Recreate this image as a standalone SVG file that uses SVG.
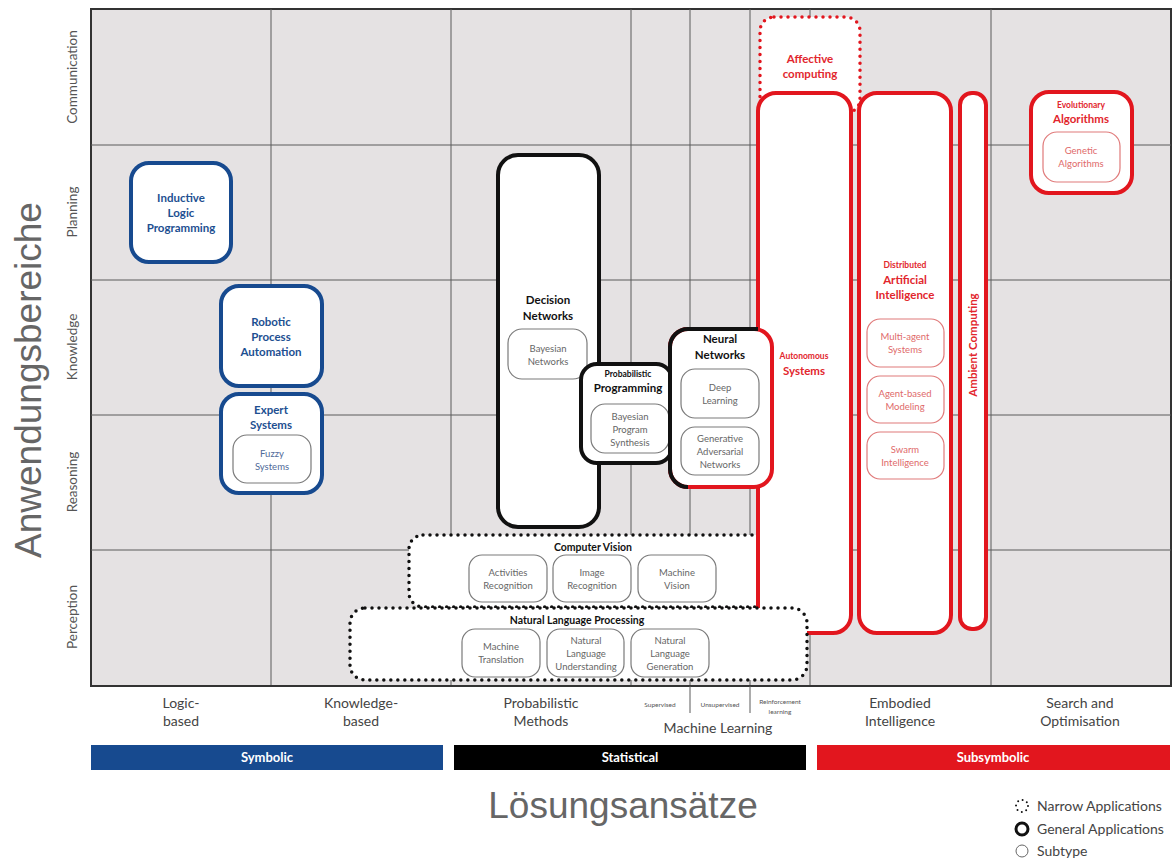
<svg xmlns="http://www.w3.org/2000/svg" width="1175" height="859" viewBox="0 0 1175 859">
<style>
.grid{stroke:#5a5a5a;stroke-width:1;fill:none}
.ax{font-family:"Lato","Noto Sans",sans-serif;font-size:13.5px;fill:#555;text-anchor:middle}
.bx{font-family:"Lato","Noto Sans",sans-serif;font-size:14px;fill:#444;text-anchor:middle}
.sm{font-family:"Lato","Noto Sans",sans-serif;font-size:6.5px;fill:#555;text-anchor:middle}
.big{font-family:"Liberation Sans",Arial,sans-serif;font-size:37px;fill:#666;text-anchor:middle}
.t{font-family:"Lato","Noto Sans",sans-serif;font-weight:bold;font-size:11.5px;text-anchor:middle}
.ts{font-family:"Lato","Noto Sans",sans-serif;font-weight:bold;font-size:8.5px;text-anchor:middle}
.st{font-family:"Lato","Noto Sans",sans-serif;font-size:9.5px;text-anchor:middle}
.blue{stroke:#174a8f;stroke-width:4;fill:#fff}
.black{stroke:#111;stroke-width:4;fill:#fff}
.red{stroke:#e2161e;stroke-width:4;fill:#fff}
.dotk{stroke:#111;stroke-width:3.5;fill:#fff;stroke-dasharray:0 7;stroke-linecap:round}
.dotr{stroke:#e2161e;stroke-width:3.5;fill:#fff;stroke-dasharray:0 7;stroke-linecap:round}
.sub{stroke:#7a7a7a;stroke-width:1.2;fill:#fff}
.subr{stroke:#e07a7a;stroke-width:1.2;fill:#fff}
.cb{fill:#1d4f91}.ck{fill:#111}.cr{fill:#e2262d}.cg{fill:#666}.cgb{fill:#4f6a99}.crs{fill:#e06a6a}
.bar{font-family:"Lato","Noto Sans",sans-serif;font-weight:bold;font-size:13px;fill:#fff;text-anchor:middle}
.leg{font-family:"Lato","Noto Sans",sans-serif;font-size:14px;fill:#444}
</style>
<rect width="1175" height="859" fill="#fff"/>
<g id="grid">
<rect x="91" y="9" width="1080" height="677" fill="#e5e2e3" stroke="#333" stroke-width="2"/>
<path class="grid" d="M91 145H1171M91 280H1171M91 415H1171M91 550H1171M271 9V686M451 9V686M631 9V686M690 9V686M750 9V686M810 9V686M991 9V686"/>
<path d="M91 686H1171" stroke="#333" stroke-width="2"/>
<path class="grid" d="M690 686V713M750 686V713"/>
</g>
<g id="axes">
<text class="big" transform="translate(41 380) rotate(-90)">Anwendungsbereiche</text>
<text class="ax" transform="translate(77 77) rotate(-90)">Communication</text>
<text class="ax" transform="translate(77 212) rotate(-90)">Planning</text>
<text class="ax" transform="translate(77 347) rotate(-90)">Knowledge</text>
<text class="ax" transform="translate(77 482) rotate(-90)">Reasoning</text>
<text class="ax" transform="translate(77 617) rotate(-90)">Perception</text>
<text class="bx" x="181" y="708">Logic-</text><text class="bx" x="181" y="726">based</text>
<text class="bx" x="361" y="708">Knowledge-</text><text class="bx" x="361" y="726">based</text>
<text class="bx" x="541" y="708">Probabilistic</text><text class="bx" x="541" y="726">Methods</text>
<text class="sm" x="660" y="707">Supervised</text>
<text class="sm" x="720" y="707">Unsupervised</text>
<text class="sm" x="780" y="704">Reinforcement</text><text class="sm" x="780" y="714">learning</text>
<text class="bx" x="718" y="733">Machine Learning</text>
<text class="bx" x="900" y="708">Embodied</text><text class="bx" x="900" y="726">Intelligence</text>
<text class="bx" x="1080" y="708">Search and</text><text class="bx" x="1080" y="726">Optimisation</text>
<rect x="91" y="745" width="352" height="25" fill="#174a8f"/>
<text class="bar" x="267" y="762">Symbolic</text>
<rect x="454" y="745" width="352" height="25" fill="#000"/>
<text class="bar" x="630" y="762">Statistical</text>
<rect x="817" y="745" width="353" height="25" fill="#e2161e"/>
<text class="bar" x="993" y="762">Subsymbolic</text>
<text class="big" x="623" y="818">Lösungsansätze</text>
</g>
<g id="legend">
<circle cx="1022" cy="806" r="6" fill="none" stroke="#111" stroke-width="2" stroke-dasharray="0 4.7" stroke-linecap="round"/>
<text class="leg" x="1037" y="811">Narrow Applications</text>
<circle cx="1022" cy="829" r="6" fill="none" stroke="#111" stroke-width="3"/>
<text class="leg" x="1037" y="834">General Applications</text>
<circle cx="1022" cy="851" r="6" fill="none" stroke="#666" stroke-width="1"/>
<text class="leg" x="1037" y="856">Subtype</text>
</g>
<g id="connectors"></g>
<g id="affective">
<rect class="dotr" x="760" y="17" width="100" height="96" rx="14"/>
<text class="t cr" x="810" y="63">Affective</text>
<text class="t cr" x="810" y="78">computing</text>
</g>
<g id="computer-vision">
<rect class="dotk" x="409" y="535" width="360" height="72" rx="14"/>
<text class="t ck" x="593" y="551" style="font-size:10.5px">Computer Vision</text>
<rect class="sub" x="469" y="555" width="78" height="47" rx="13"/>
<text class="st cg" x="508" y="576">Activities</text><text class="st cg" x="508" y="589">Recognition</text>
<rect class="sub" x="553" y="555" width="78" height="47" rx="13"/>
<text class="st cg" x="592" y="576">Image</text><text class="st cg" x="592" y="589">Recognition</text>
<rect class="sub" x="638" y="555" width="78" height="47" rx="13"/>
<text class="st cg" x="677" y="576">Machine</text><text class="st cg" x="677" y="589">Vision</text>
</g>
<g id="autonomous">
<rect class="red" x="758" y="93" width="93" height="540" rx="18"/>
<text class="ts cr" x="804" y="359">Autonomous</text>
<text class="t cr" x="804" y="375">Systems</text>
</g>
<g id="dai">
<rect class="red" x="859" y="93" width="92" height="540" rx="18"/>
<text class="ts cr" x="905" y="268">Distributed</text>
<text class="t cr" x="905" y="284">Artificial</text>
<text class="t cr" x="905" y="299">Intelligence</text>
<rect class="subr" x="867" y="319" width="77" height="48" rx="13"/>
<text class="st crs" x="905" y="340">Multi-agent</text><text class="st crs" x="905" y="353">Systems</text>
<rect class="subr" x="867" y="376" width="77" height="47" rx="13"/>
<text class="st crs" x="905" y="397">Agent-based</text><text class="st crs" x="905" y="410">Modeling</text>
<rect class="subr" x="867" y="432" width="77" height="47" rx="13"/>
<text class="st crs" x="905" y="453">Swarm</text><text class="st crs" x="905" y="466">Intelligence</text>
</g>
<g id="ambient">
<rect class="red" x="960" y="93" width="26" height="536" rx="12"/>
<text class="t cr" transform="translate(977 345) rotate(-90)">Ambient Computing</text>
</g>
<g id="evolutionary">
<rect class="red" x="1031" y="92" width="101" height="101" rx="18"/>
<text class="ts cr" x="1081" y="108">Evolutionary</text>
<text class="t cr" x="1081" y="123">Algorithms</text>
<rect class="subr" x="1043" y="132" width="77" height="50" rx="14"/>
<text class="st crs" x="1081" y="154">Genetic</text><text class="st crs" x="1081" y="167">Algorithms</text>
</g>
<g id="decision-networks">
<rect class="black" x="498" y="155" width="101" height="372" rx="20"/>
<text class="t ck" x="548" y="304">Decision</text>
<text class="t ck" x="548" y="320">Networks</text>
<rect class="sub" x="508" y="329" width="79" height="50" rx="14"/>
<text class="st cg" x="548" y="352">Bayesian</text><text class="st cg" x="548" y="365">Networks</text>
</g>
<g id="probabilistic-programming">
<rect class="black" x="581" y="364" width="91" height="99" rx="16"/>
<text class="ts ck" x="628" y="377">Probabilistic</text>
<text class="t ck" x="628" y="392">Programming</text>
<rect class="sub" x="591" y="404" width="78" height="49" rx="14"/>
<text class="st cg" x="630" y="420">Bayesian</text><text class="st cg" x="630" y="433">Program</text><text class="st cg" x="630" y="446">Synthesis</text>
</g>
<g id="neural-networks">
<rect class="red" x="670" y="329" width="102" height="158" rx="18"/>
<path d="M688 487A18 18 0 0 1 670 469V347A18 18 0 0 1 688 329H758" fill="none" stroke="#111" stroke-width="4"/>
<text class="t ck" x="720" y="343">Neural</text>
<text class="t ck" x="720" y="359">Networks</text>
<rect class="sub" x="681" y="369" width="78" height="49" rx="14"/>
<text class="st cg" x="720" y="391">Deep</text><text class="st cg" x="720" y="404">Learning</text>
<rect class="sub" x="681" y="427" width="78" height="48" rx="14"/>
<text class="st cg" x="720" y="442">Generative</text><text class="st cg" x="720" y="455">Adversarial</text><text class="st cg" x="720" y="468">Networks</text>
</g>
<g id="nlp">
<rect class="dotk" x="350" y="608" width="457" height="72" rx="15"/>
<text class="t ck" x="577" y="624" style="font-size:10.5px">Natural Language Processing</text>
<rect class="sub" x="462" y="629" width="78" height="48" rx="13"/>
<text class="st cg" x="501" y="650">Machine</text><text class="st cg" x="501" y="663">Translation</text>
<rect class="sub" x="547" y="629" width="77" height="48" rx="13"/>
<text class="st cg" x="586" y="644">Natural</text><text class="st cg" x="586" y="657">Language</text><text class="st cg" x="586" y="670">Understanding</text>
<rect class="sub" x="631" y="629" width="78" height="48" rx="13"/>
<text class="st cg" x="670" y="644">Natural</text><text class="st cg" x="670" y="657">Language</text><text class="st cg" x="670" y="670">Generation</text>
</g>
<g id="ilp">
<rect class="blue" x="131" y="163" width="100" height="99" rx="18"/>
<text class="t cb" x="181" y="202">Inductive</text><text class="t cb" x="181" y="217">Logic</text><text class="t cb" x="181" y="232">Programming</text>
</g>
<g id="rpa">
<rect class="blue" x="221" y="286" width="101" height="100" rx="18"/>
<text class="t cb" x="271" y="326">Robotic</text><text class="t cb" x="271" y="341">Process</text><text class="t cb" x="271" y="356">Automation</text>
</g>
<g id="expert-systems">
<rect class="blue" x="221" y="394" width="101" height="99" rx="18"/>
<text class="t cb" x="271" y="414">Expert</text><text class="t cb" x="271" y="429">Systems</text>
<rect class="sub" x="233" y="435" width="78" height="48" rx="14"/>
<text class="st cgb" x="272" y="457">Fuzzy</text><text class="st cgb" x="272" y="470">Systems</text>
</g>
</svg>
